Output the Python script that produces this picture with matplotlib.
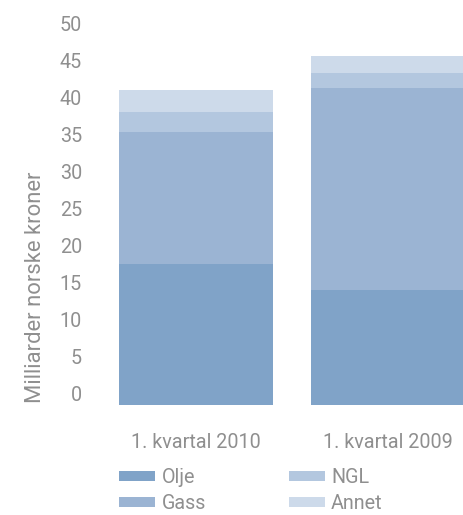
import matplotlib
matplotlib.use("Agg")
import matplotlib.pyplot as plt
import numpy as np

categories = ["1. kvartal 2010", "1. kvartal 2009"]
series_names = ["Olje", "Gass", "NGL", "Annet"]
olje = [19.0, 15.5]
gass = [17.9, 27.4]
ngl = [2.7, 2.0]
annet = [3.0, 2.3]
yticks = [0, 5, 10, 15, 20, 25, 30, 35, 40, 45, 50]

colors = ["#80a3c8", "#9bb4d3", "#b3c7df", "#cddaea"]
text_color = "#8f8f8f"

plt.rcParams['font.family'] = ['Roboto', 'DejaVu Sans']
FS = 14.2
W, H = 464, 515
fig = plt.figure(figsize=(W / 100, H / 100), dpi=100)
ax = fig.add_axes([100 / W, 1 - 405 / H, (464 - 100) / W, (405 - 35) / H])

x = np.arange(len(categories))
bottom = np.zeros(len(categories))
for name, vals, c in zip(series_names, [olje, gass, ngl, annet], colors):
    ax.bar(x, vals, width=0.8, bottom=bottom, color=c, label=name, edgecolor='none')
    bottom += np.array(vals)

ax.set_xlim(-0.5, 1.396)
ax.set_ylim(0, 50)
ax.set_yticks(yticks)
ax.set_yticklabels([str(v) for v in yticks])
ax.set_xticks(x)
ax.set_xticklabels(categories)
for lab in ax.get_yticklabels():
    lab.set_va('bottom')
ax.tick_params(axis='y', length=0, pad=13, labelsize=FS, labelcolor=text_color)
ax.tick_params(axis='x', length=0, pad=20, labelsize=FS, labelcolor=text_color)
for s in ax.spines.values():
    s.set_visible(False)

fig.text(36 / W, 1 - 403 / H, "Milliarder norske kroner", rotation=90,
         ha='center', va='bottom', fontsize=15.8, color=text_color)

leg = ax.legend(ncol=2, loc='upper left', bbox_to_anchor=(119 / W, 1 - 468 / H),
                bbox_transform=fig.transFigure, frameon=False, fontsize=FS,
                handlelength=1.85, handleheight=0.4, handletextpad=0.3,
                columnspacing=4.2, labelspacing=0.35, borderpad=0, borderaxespad=0)
for t in leg.get_texts():
    t.set_color(text_color)

fig.savefig("out.png", dpi=100)
